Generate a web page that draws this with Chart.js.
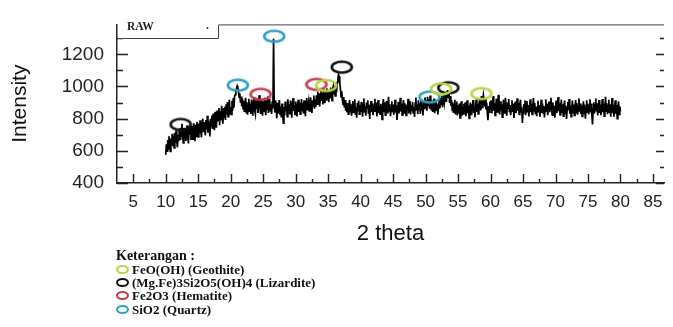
<!DOCTYPE html>
<html>
<head>
<meta charset="utf-8">
<script src="https://cdn.jsdelivr.net/npm/chart.js@4/dist/chart.umd.min.js"></script>
<style>
  body { margin: 0; background: #fff; }
  #wrap { position: relative; width: 673px; height: 327px; }
  #legend { position: absolute; left: 116px; top: 248px; font-family: "Liberation Serif", "DejaVu Serif", serif; font-weight: bold; color: #111; }
  #legend .head { font-size: 14px; height: 15px; line-height: 15px; }
  #legend .item { font-size: 13px; height: 13.2px; line-height: 13px; white-space: nowrap; }
  #legend .mark { display: inline-block; width: 9px; height: 5px; border: 2px solid; border-radius: 50%; margin-right: 3px; vertical-align: 0px; }
</style>
</head>
<body>
<div id="wrap">
  <canvas id="xrdChart" width="673" height="327"></canvas>
  <div id="legend"></div>
</div>
<script>
// 2 theta sampling of the scan
const thetaStart = 10;
const thetaStep = 0.1;

// intensity, one row per degree (10.0 ... 80.0)
const intensity = [
  575, 640, 598, 668, 612, 690, 630, 596, 676, 640,
  706, 628, 690, 618, 712, 650, 728, 662, 622, 700,
  660, 738, 672, 744, 690, 768, 700, 650, 742, 676,
  740, 662, 716, 758, 680, 646, 748, 700, 770, 672,
  700, 756, 672, 772, 718, 660, 762, 690, 780, 722,
  686, 770, 708, 790, 728, 684, 776, 800, 716, 778,
  740, 696, 792, 734, 818, 712, 786, 752, 690, 800,
  752, 820, 736, 832, 770, 728, 842, 786, 744, 850,
  782, 836, 866, 760, 846, 790, 880, 810, 768, 866,
  808, 874, 792, 890, 826, 904, 812, 860, 918, 830,
  872, 826, 912, 850, 928, 868, 940, 950, 972, 990,
  1004, 994, 968, 934, 958, 900, 938, 878, 926, 862,
  912, 846, 896, 930, 838, 902, 824, 880, 924, 842,
  894, 830, 918, 866, 818, 904, 932, 850, 828, 912,
  860, 926, 836, 898, 946, 868, 830, 918, 852, 818,
  906, 842, 930, 870, 822, 914, 862, 938, 836, 896,
  922, 848, 890, 830, 908, 864, 1296, 896, 838, 914,
  866, 802, 898, 836, 886, 916, 826, 876, 808, 894,
  840, 772, 872, 820, 906, 846, 882, 812, 920, 850,
  890, 826, 912, 858, 806, 898, 928, 848, 884, 826,
  906, 858, 814, 890, 918, 842, 898, 828, 874, 922,
  852, 896, 832, 914, 866, 816, 902, 928, 856, 884,
  910, 848, 896, 932, 868, 836, 914, 880, 944, 862,
  920, 872, 946, 890, 968, 900, 958, 876, 930, 972,
  910, 962, 888, 982, 930, 896, 970, 916, 988, 930,
  966, 902, 980, 932, 994, 946, 912, 984, 1004, 950,
  990, 942, 1006, 964, 1026, 1050, 1074, 1062, 1020, 980,
  936, 970, 912, 888, 934, 868, 916, 850, 898, 840,
  896, 828, 880, 916, 844, 892, 818, 874, 910, 834,
  884, 920, 824, 870, 806, 898, 852, 912, 828, 884,
  842, 904, 866, 812, 888, 926, 838, 878, 818, 900,
  868, 914, 830, 886, 798, 872, 910, 842, 894, 822,
  884, 846, 924, 856, 900, 814, 868, 916, 834, 878,
  828, 892, 856, 796, 884, 922, 846, 902, 822, 872,
  910, 838, 876, 936, 848, 890, 816, 868, 908, 840,
  888, 824, 862, 918, 838, 882, 792, 858, 904, 832,
  872, 930, 844, 892, 822, 874, 916, 836, 896, 856,
  820, 886, 852, 924, 832, 870, 910, 826, 884, 846,
  904, 836, 874, 810, 896, 932, 852, 888, 828, 914,
  858, 896, 830, 918, 848, 886, 820, 906, 864, 932,
  876, 912, 850, 936, 884, 920, 862, 944, 890, 852,
  912, 842, 888, 924, 834, 878, 916, 848, 894, 826,
  882, 920, 864, 930, 890, 942, 872, 920, 952, 900,
  932, 958, 904, 966, 978, 934, 960, 898, 940, 880,
  916, 852, 900, 836, 884, 918, 826, 872, 906, 820,
  884, 832, 894, 804, 860, 908, 818, 872, 830, 892,
  844, 902, 816, 868, 914, 834, 882, 802, 860, 900,
  826, 890, 848, 916, 836, 870, 808, 884, 920, 842,
  892, 830, 872, 926, 856, 898, 940, 870, 912, 948,
  918, 874, 930, 858, 900, 836, 790, 878, 840, 906,
  856, 914, 832, 884, 940, 850, 896, 820, 874, 924,
  842, 896, 948, 862, 826, 908, 850, 890, 810, 874,
  918, 836, 880, 930, 856, 818, 900, 866, 922, 840,
  884, 822, 868, 914, 842, 894, 804, 864, 906, 834,
  872, 926, 848, 898, 826, 880, 918, 844, 870, 774,
  836, 890, 856, 914, 822, 876, 910, 838, 884, 814,
  868, 920, 840, 892, 826, 870, 928, 848, 898, 828,
  876, 816, 866, 912, 838, 884, 812, 862, 918, 836,
  894, 832, 878, 808, 870, 920, 842, 892, 822, 876,
  906, 840, 884, 930, 856, 822, 900, 842, 878, 806,
  872, 912, 834, 884, 934, 846, 896, 824, 878, 918,
  840, 890, 816, 874, 912, 832, 880, 798, 866, 904,
  852, 922, 830, 880, 812, 868, 912, 838, 888, 820,
  868, 916, 838, 896, 824, 874, 926, 844, 894, 830,
  880, 814, 864, 908, 832, 888, 800, 866, 914, 840,
  892, 826, 870, 920, 838, 894, 818, 764, 860, 902,
  832, 884, 926, 844, 896, 820, 872, 916, 836, 888,
  822, 872, 922, 840, 894, 816, 864, 936, 846, 896,
  828, 880, 918, 836, 890, 812, 868, 928, 834, 886,
  812, 870, 914, 830, 884, 800, 862, 908, 826, 876,
  844
];

// peak markers per phase: [2 theta, intensity]
const geothitePeaks = [[34.7, 1006], [52.4, 985], [58.6, 956]];
const lizarditePeaks = [[12.3, 764], [37.1, 1120], [53.5, 992]];
const hematitePeaks = [[24.6, 951], [33.2, 1013]];
const quartzPeaks = [[21.1, 1008], [26.7, 1312], [50.6, 934]];

const phaseNames = [
  "FeO(OH) (Geothite)",
  "(Mg.Fe)3Si2O5(OH)4 (Lizardite)",
  "Fe2O3 (Hematite)",
  "SiO2 (Quartz)",
];
const phaseColors = ["#b9d443", "#111111", "#c43a4c", "#2c9ec8"];

const xTicks = [5, 10, 15, 20, 25, 30, 35, 40, 45, 50, 55, 60, 65, 70, 75, 80, 85];
const yTicks = [400, 600, 800, 1000, 1200];

function ellipseMark(color) {
  const c = document.createElement("canvas");
  c.width = 26;
  c.height = 16;
  const g = c.getContext("2d");
  g.strokeStyle = color;
  g.lineWidth = 2.6;
  g.beginPath();
  g.ellipse(13, 8, 10, 5.5, 0, 0, Math.PI * 2);
  g.stroke();
  return c;
}

function markerSet(points, color) {
  return {
    type: "scatter",
    data: points.map((p) => ({ x: p[0], y: p[1] })),
    pointStyle: ellipseMark(color),
    pointRadius: 8,
    showLine: false,
    order: 0,
  };
}

// ticks drawn inside the frame, plus the RAW box and top border
const framePlugin = {
  id: "frame",
  afterDraw(chart) {
    const { ctx, chartArea } = chart;
    const x = chart.scales.x;
    const y = chart.scales.y;
    ctx.save();
    ctx.strokeStyle = "#222";
    ctx.lineWidth = 1.4;
    ctx.beginPath();
    for (let v = 400; v <= 1300; v += 100) {
      const py = Math.round(y.getPixelForValue(v)) + 0.5;
      const major = v % 200 === 0;
      ctx.moveTo(chartArea.left, py);
      ctx.lineTo(chartArea.left + (major ? 11 : 6), py);
      ctx.moveTo(chartArea.right, py);
      ctx.lineTo(chartArea.right - (major ? 8 : 4), py);
    }
    for (let t = 5; t <= 85; t += 2.5) {
      const px = Math.round(x.getPixelForValue(t)) + 0.5;
      const major = t % 5 === 0;
      ctx.moveTo(px, chartArea.bottom);
      ctx.lineTo(px, chartArea.bottom - (major ? 9 : 4));
    }
    ctx.stroke();

    // RAW label box
    const boxRight = 218.5;
    const boxBottom = 38.5;
    ctx.fillStyle = "#fff";
    ctx.fillRect(chartArea.left + 1, chartArea.top, boxRight - chartArea.left - 1, boxBottom - chartArea.top);
    ctx.strokeStyle = "#444";
    ctx.lineWidth = 1;
    ctx.beginPath();
    ctx.moveTo(chartArea.left, boxBottom);
    ctx.lineTo(boxRight, boxBottom);
    ctx.lineTo(boxRight, chartArea.top + 0.5);
    ctx.lineTo(chartArea.right, chartArea.top + 0.5);
    ctx.stroke();
    ctx.fillStyle = "#222";
    ctx.font = "bold 11.5px 'Liberation Serif', serif";
    ctx.textBaseline = "middle";
    ctx.fillText("RAW", 127, 27);
    ctx.fillText(".", 206, 26);
    ctx.restore();
  },
};

new Chart(document.getElementById("xrdChart"), {
  type: "line",
  data: {
    datasets: [
      markerSet(geothitePeaks, phaseColors[0]),
      markerSet(hematitePeaks, phaseColors[2]),
      markerSet(quartzPeaks, phaseColors[3]),
      markerSet(lizarditePeaks, phaseColors[1]),
      {
        label: "RAW",
        data: intensity.map((v, i) => ({ x: thetaStart + i * thetaStep, y: v })),
        borderColor: "#000",
        borderWidth: 1.7,
        pointRadius: 0,
        tension: 0,
        order: 1,
      },
    ],
  },
  options: {
    responsive: false,
    animation: false,
    layout: { padding: { top: 13, right: 0, bottom: 0, left: 0 } },
    plugins: { legend: { display: false }, tooltip: { enabled: false } },
    scales: {
      x: {
        type: "linear",
        min: 2.5,
        max: 86.7,
        afterBuildTicks: (scale) => {
          scale.ticks = xTicks.map((v) => ({ value: v }));
        },
        afterFit: (scale) => {
          scale.height = 144;
        },
        grid: { display: false, drawTicks: false },
        border: { display: true, color: "#222", width: 1.5 },
        ticks: {
          color: "#222",
          padding: 9,
          autoSkip: false,
          maxRotation: 0,
          callback: (v) => String(v),
          font: { family: "'Liberation Sans', Arial, sans-serif", size: 17 },
        },
        title: {
          display: true,
          text: "2 theta",
          color: "#111",
          font: { family: "'Liberation Sans', Arial, sans-serif", size: 22 },
          padding: { top: 0, bottom: 80 },
        },
      },
      y: {
        min: 400,
        max: 1386,
        afterBuildTicks: (scale) => {
          scale.ticks = yTicks.map((v) => ({ value: v }));
        },
        afterFit: (scale) => {
          scale.width = 117;
        },
        grid: { display: false, drawTicks: false },
        border: { display: true, color: "#222", width: 1.5 },
        ticks: {
          color: "#222",
          padding: 13,
          callback: (v) => String(v),
          font: { family: "'Liberation Sans', Arial, sans-serif", size: 19 },
        },
        title: {
          display: true,
          text: "Intensity",
          color: "#111",
          font: { family: "'Liberation Sans', Arial, sans-serif", size: 21 },
          padding: { top: 8, bottom: 0 },
        },
      },
    },
  },
  plugins: [framePlugin],
});

// legend under the chart
const legend = document.getElementById("legend");
legend.innerHTML =
  '<div class="head">Keterangan :</div>' +
  phaseNames
    .map(
      (name, i) =>
        `<div class="item"><span class="mark" style="border-color:${phaseColors[i]}"></span>${name}</div>`
    )
    .join("");
</script>
</body>
</html>
